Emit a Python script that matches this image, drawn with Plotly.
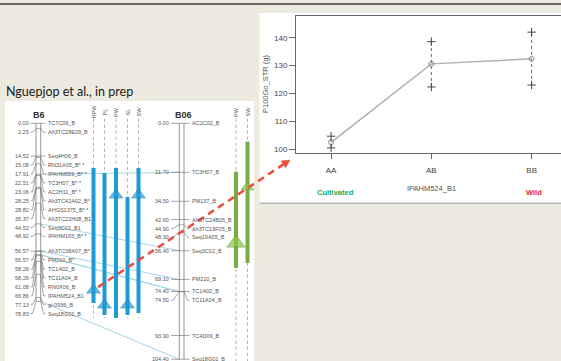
import plotly.graph_objects as go

W, H = 561, 361
BG = "#EDEAE0"

# ---------------- inset: seed weight by genotype at IPAHM524_B1 ----------------
genotypes = ["AA", "AB", "BB"]
geno_mean = [102.4, 130.6, 132.4]
geno_upper = [104.6, 138.6, 142.0]
geno_lower = [100.4, 122.3, 123.0]
y_ticks = [100, 110, 120, 130, 140]

# ---------------- linkage group B6 ----------------
b6_markers = ["TC7C06_B", "Ah3TC28E09_B", "Seq4H06_B", "RN31A05_B* *", "IPAHM659_B* *",
              "TC3H07_B* *", "AC2H11_B* *", "Ah3TC42A02_B*", "AHGS1375_B* *", "Ah3TC22H08_B1",
              "Seq3C02_B1", "IPAHM165_B* *", "Ah3TC38A07_B*", "PM210_B*", "TC1A02_B",
              "TC11A04_B", "RN0X06_B", "IPAHM524_B1", "gi-0936_B", "Seq18G01_B"]
b6_cm = [0.00, 2.25, 14.52, 15.08, 17.91, 22.51, 23.06, 28.25, 28.82, 35.37,
         44.52, 48.92, 56.57, 56.57, 58.26, 58.26, 61.08, 66.86, 77.13, 78.83]

# ---------------- linkage group B06 ----------------
b06_markers = ["AC2C02_B", "TC3H07_B", "PM137_B", "Ah3TC24B05_B", "Ah3TC19F05_B", "Seq19A05_B",
               "Seq3C02_B", "PM210_B", "TC1A02_B", "TC11A04_B", "TC4D09_B", "Seq18G01_B"]
b06_cm = [0.00, 21.70, 34.50, 42.60, 44.90, 48.30, 56.40, 69.10, 74.40, 74.50, 93.90, 104.40]

# markers shared by both groups
shared_b6 = ["TC3H07_B* *", "Seq3C02_B1", "PM210_B*", "TC1A02_B", "TC11A04_B", "Seq18G01_B"]
shared_b06 = ["TC3H07_B", "Seq3C02_B", "PM210_B", "TC1A02_B", "TC11A04_B", "Seq18G01_B"]

# QTL intervals (cM)
b6_traits = ["HPW", "PL", "PW", "SL", "SW"]
b6_qtl_start = [19.8, 22.0, 19.8, 32.6, 19.8]
b6_qtl_end = [79.5, 84.8, 86.1, 84.8, 83.9]
b6_qtl_peak = [73.8, 80.4, 31.7, 80.4, 31.7]

b06_traits = ["PW", "SW"]
b06_qtl_start = [21.4, 8.1]
b06_qtl_end = [64.0, 61.8]
b06_qtl_peak = [53.0, 28.2]

# map axis scale: pixel row of 0 cM and pixels per cM
CM0_PX = 123.3
PX_PER_CM = 2.26
LABEL_GAP = 3.95  # cM between stacked marker labels

MAP_FONT = dict(family="Liberation Sans", size=5.5, color="#555")
PLOT_FONT = "Liberation Sans"


def fx(x):
    return x / W


def fy(y):
    return 1 - y / H


def cm_to_px(c):
    return CM0_PX + PX_PER_CM * c


def spread(pos, gap=LABEL_GAP):
    out, prev = [], -1e9
    for p in pos:
        v = max(p, prev + gap)
        out.append(v)
        prev = v
    return out


groups = [
    dict(title="B6", markers=b6_markers, cm=b6_cm, num_x=29.5, bar_l=36.0, bar_r=40.7, name_x=46.5,
         traits=b6_traits, start=b6_qtl_start, end=b6_qtl_end, peak=b6_qtl_peak,
         cols=[93.5, 104.5, 116.0, 127.5, 138.5], color="#1E9AD6", tri_line="#1580B8",
         tri_sizes=[12, 12, 12, 12, 12], guide_end=86.1, title_x=39),
    dict(title="B06", markers=b06_markers, cm=b06_cm, num_x=170.0, bar_l=179.3, bar_r=184.0, name_x=190.5,
         traits=b06_traits, start=b06_qtl_start, end=b06_qtl_end, peak=b06_qtl_peak,
         cols=[236.0, 247.5], color="#78AC46", tri_line="#5E9233",
         tri_sizes=[16, 11], guide_end=106.0, title_x=183),
]
tri_fill = ["#1E9AD6", "#8CC63F"]

fig = go.Figure()
annotations = []
shapes = []

# ---------------- slide background pieces ----------------
shapes.append(dict(type="line", xref="paper", yref="paper", x0=0, x1=1, y0=fy(4), y1=fy(4),
                   line=dict(color="#3A3A3A", width=1.5)))
shapes.append(dict(type="rect", xref="paper", yref="paper", x0=fx(5), x1=fx(254), y0=0, y1=fy(101),
                   fillcolor="white", line=dict(width=0), layer="below"))
shapes.append(dict(type="rect", xref="paper", yref="paper", x0=fx(259.5), x1=1, y0=fy(203), y1=fy(13),
                   fillcolor="white", line=dict(width=0), layer="below"))
shapes.append(dict(type="line", xref="paper", yref="paper", x0=fx(259.5), x1=1, y0=fy(203.3), y1=fy(203.3),
                   line=dict(color="#B8B8B8", width=1.5)))

annotations.append(dict(text="Nguepjop et al., in prep", xref="paper", yref="paper",
                        x=fx(4), y=fy(91), xanchor="left", yanchor="middle", showarrow=False,
                        font=dict(family="Lato", size=12.5, color="#1a1a1a")))

# ---------------- linkage map (x2 = pixels, y2 = cM) ----------------
b6_pos = {m: c for m, c in zip(b6_markers, b6_cm)}
b06_pos = {m: c for m, c in zip(b06_markers, b06_cm)}
hx, hy = [], []
for a, b in zip(shared_b6, shared_b06):
    hx += [groups[0]["bar_r"], groups[1]["bar_l"], None]
    hy += [b6_pos[a], b06_pos[b], None]
fig.add_trace(go.Scatter(x=hx, y=hy, mode="lines", xaxis="x2", yaxis="y2",
                         line=dict(color="#A6D6EA", width=1), hoverinfo="skip", showlegend=False))

for gi, g in enumerate(groups):
    labels = spread(g["cm"])
    # chromosome outline
    fig.add_trace(go.Scatter(
        x=[g["bar_l"], g["bar_l"], None, g["bar_r"], g["bar_r"]],
        y=[0, g["cm"][-1], None, 0, g["cm"][-1]],
        mode="lines", xaxis="x2", yaxis="y2",
        line=dict(color="#7A7A7A", width=0.8), hoverinfo="skip", showlegend=False))
    # marker ticks and leader lines
    lx, ly = [], []
    for c, l in zip(g["cm"], labels):
        lx += [g["num_x"] + 1, g["num_x"] + 3, g["bar_l"], g["bar_r"], g["name_x"] - 3, g["name_x"] - 1, None]
        ly += [l, l, c, c, l, l, None]
    fig.add_trace(go.Scatter(x=lx, y=ly, mode="lines", xaxis="x2", yaxis="y2",
                             line=dict(color="#6A6A6A", width=0.6), hoverinfo="skip", showlegend=False))
    for name, c, l in zip(g["markers"], g["cm"], labels):
        annotations.append(dict(text=f"{c:.2f}", xref="x2", yref="y2", x=g["num_x"], y=l,
                                xanchor="right", yanchor="middle", showarrow=False, font=MAP_FONT,
                                borderpad=0))
        annotations.append(dict(text=name, xref="x2", yref="y2", x=g["name_x"], y=l,
                                xanchor="left", yanchor="middle", showarrow=False, font=MAP_FONT,
                                borderpad=0))
    annotations.append(dict(text=f"<b>{g['title']}</b>", xref="paper", yref="paper",
                            x=fx(g["title_x"]), y=fy(115), xanchor="center", yanchor="middle",
                            showarrow=False, font=dict(family=PLOT_FONT, size=9, color="#333")))
    # trait columns
    gx, gy = [], []
    for cx in g["cols"]:
        gx += [cx, cx, None]
        gy += [-2.0, g["guide_end"], None]
    fig.add_trace(go.Scatter(x=gx, y=gy, mode="lines", xaxis="x2", yaxis="y2",
                             line=dict(color="#9A9A9A", width=0.8, dash="dot"),
                             hoverinfo="skip", showlegend=False))
    for cx, t in zip(g["cols"], g["traits"]):
        annotations.append(dict(text=t, xref="x2", yref="paper", x=cx, y=fy(112),
                                xanchor="center", yanchor="middle", textangle=-90, showarrow=False,
                                font=dict(family=PLOT_FONT, size=5.5, color="#555")))
    qx, qy = [], []
    for cx, s, e in zip(g["cols"], g["start"], g["end"]):
        qx += [cx, cx, None]
        qy += [s, e, None]
    fig.add_trace(go.Scatter(x=qx, y=qy, mode="lines", xaxis="x2", yaxis="y2",
                             line=dict(color=g["color"], width=4), hoverinfo="skip", showlegend=False))
    fig.add_trace(go.Scatter(x=g["cols"], y=g["peak"], mode="markers", xaxis="x2", yaxis="y2",
                             marker=dict(symbol="triangle-up", size=g["tri_sizes"], color=tri_fill[gi],
                                         line=dict(color=g["tri_line"], width=0.8)),
                             hoverinfo="skip", showlegend=False))

# ---------------- inset plot ----------------
vx, vy = [], []
for gname, lo, hi in zip(genotypes, geno_lower, geno_upper):
    vx += [gname, gname, None]
    vy += [lo, hi, None]
fig.add_trace(go.Scatter(x=vx, y=vy, mode="lines", xaxis="x", yaxis="y",
                         line=dict(color="#666", width=1, dash="dot"), hoverinfo="skip", showlegend=False))
fig.add_trace(go.Scatter(x=genotypes, y=geno_mean, mode="lines", xaxis="x", yaxis="y",
                         line=dict(color="#B0B0B0", width=1.5), showlegend=False))
fig.add_trace(go.Scatter(x=genotypes, y=geno_mean, mode="markers", xaxis="x", yaxis="y",
                         marker=dict(symbol="circle-open", size=5, color="#888", line=dict(width=1)),
                         showlegend=False))
fig.add_trace(go.Scatter(x=genotypes + genotypes, y=geno_upper + geno_lower, mode="markers",
                         xaxis="x", yaxis="y",
                         marker=dict(symbol="cross-thin", size=6, line=dict(color="#444", width=1)),
                         showlegend=False))

annotations += [
    dict(text="P100Go_STR (g)", xref="paper", yref="paper", x=fx(265), y=fy(84), textangle=-90,
         xanchor="center", yanchor="middle", showarrow=False,
         font=dict(family=PLOT_FONT, size=7.5, color="#555")),
    dict(text="IPAHM524_B1", xref="paper", yref="paper", x=fx(431), y=fy(188),
         xanchor="center", yanchor="middle", showarrow=False,
         font=dict(family=PLOT_FONT, size=7.5, color="#555")),
    dict(text="<b>Cultivated</b>", xref="paper", yref="paper", x=fx(335), y=fy(192),
         xanchor="center", yanchor="middle", showarrow=False,
         font=dict(family=PLOT_FONT, size=7.5, color="#22A94C")),
    dict(text="<b>Wild</b>", xref="paper", yref="paper", x=fx(534), y=fy(192),
         xanchor="center", yanchor="middle", showarrow=False,
         font=dict(family=PLOT_FONT, size=7.5, color="#F0282A")),
]

# ---------------- dashed arrow from the HPW QTL peak to the inset ----------------
sx, sy = groups[0]["cols"][0] + 4.5, cm_to_px(b6_qtl_peak[0]) - 3
ex, ey = 290.0, 160.0
dx, dy = ex - sx, ey - sy
n = (dx ** 2 + dy ** 2) ** 0.5
ux, uy = dx / n, dy / n
hl, hw = 8.0, 4.0
bx, by = ex - ux * hl, ey - uy * hl
shapes.append(dict(type="line", xref="paper", yref="paper", x0=fx(sx), y0=fy(sy), x1=fx(bx), y1=fy(by),
                   line=dict(color="#EE4B40", width=2.5, dash="7px,5px")))
p1 = (bx - uy * hw, by + ux * hw)
p2 = (bx + uy * hw, by - ux * hw)
path = "M {} {} L {} {} L {} {} Z".format(fx(ex), fy(ey), fx(p1[0]), fy(p1[1]), fx(p2[0]), fy(p2[1]))
shapes.append(dict(type="path", xref="paper", yref="paper", path=path,
                   fillcolor="#EE4B40", line=dict(color="#EE4B40", width=0.5)))

y_lo = 100 - (153 - 149) / 2.78
y_hi = 140 + (37.7 - 16) / 2.78

fig.update_layout(
    width=W, height=H,
    margin=dict(l=0, r=0, t=0, b=0),
    paper_bgcolor=BG, plot_bgcolor="rgba(0,0,0,0)",
    showlegend=False,
    xaxis=dict(domain=[fx(296), 1], type="category", categoryorder="array", categoryarray=genotypes,
               range=[-0.35, 2.293], showline=True, linecolor="#666", linewidth=1, mirror=True,
               ticks="outside", ticklen=5, tickcolor="#666", showgrid=False, zeroline=False,
               tickfont=dict(family=PLOT_FONT, size=8, color="#444"), ticklabelstandoff=4, anchor="y"),
    yaxis=dict(domain=[fy(153), fy(16)], range=[y_lo, y_hi], tickvals=y_ticks,
               showline=True, linecolor="#666", linewidth=1, ticks="outside", ticklen=6,
               tickcolor="#666", showgrid=False, zeroline=False,
               tickfont=dict(family=PLOT_FONT, size=8, color="#444"), anchor="x"),
    xaxis2=dict(domain=[0, 1], range=[0, W], visible=False, anchor="y2"),
    yaxis2=dict(domain=[0, 1], range=[(H - CM0_PX) / PX_PER_CM, -CM0_PX / PX_PER_CM],
                visible=False, anchor="x2"),
    annotations=annotations,
    shapes=shapes,
)

fig.write_html("out.html")
